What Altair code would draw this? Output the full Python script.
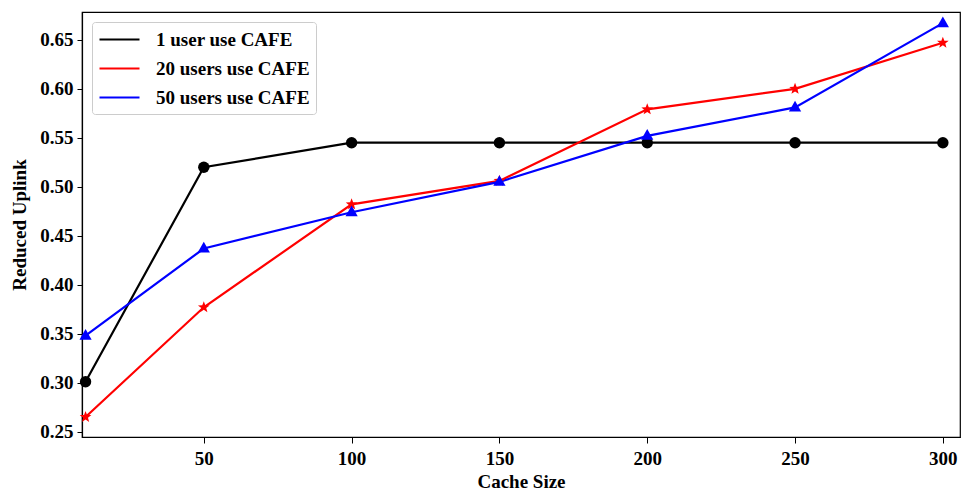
import math
import altair as alt
import pandas as pd

cache_size = [10, 50, 100, 150, 200, 250, 300]
one_user = [0.301, 0.520, 0.545, 0.545, 0.545, 0.545, 0.545]
twenty_users = [0.265, 0.377, 0.482, 0.506, 0.579, 0.600, 0.647]
fifty_users = [0.348, 0.437, 0.474, 0.505, 0.552, 0.581, 0.667]

series_names = ["1 user use CAFE", "20 users use CAFE", "50 users use CAFE"]
series_colors = ["#000000", "#ff0000", "#0000ff"]

# five-point star as an SVG path in unit coordinates
star_pts = []
for i in range(10):
    ang = math.radians(-90 + 36 * i)
    r = 1.0 if i % 2 == 0 else 0.42
    star_pts.append(f"{r * math.cos(ang):.3f},{r * math.sin(ang):.3f}")
STAR = "M" + "L".join(star_pts) + "Z"
TRI = "M0,-1.1L1,0.65L-1,0.65Z"
LEGEND_LINE = "M-1,0L3,0"
series_shapes = ["circle", STAR, TRI]
series_sizes = [130, 150, 150]

rows = []
for name, vals in zip(series_names, [one_user, twenty_users, fifty_users]):
    for x, y in zip(cache_size, vals):
        rows.append({"cache": x, "uplink": y, "series": name})
df = pd.DataFrame(rows)

FONT = "Liberation Serif"

x_enc = alt.X("cache:Q",
              scale=alt.Scale(domain=[8.8, 305.8], nice=False, zero=False),
              axis=alt.Axis(values=[50, 100, 150, 200, 250, 300], title="Cache Size",
                            grid=False))
y_enc = alt.Y("uplink:Q",
              scale=alt.Scale(domain=[0.2446, 0.6784], nice=False, zero=False),
              axis=alt.Axis(values=[0.25, 0.30, 0.35, 0.40, 0.45, 0.50, 0.55, 0.60, 0.65],
                            format=".2f", title="Reduced Uplink", grid=False))

lines = alt.Chart(df).mark_line(strokeWidth=2.2).encode(
    x=x_enc, y=y_enc,
    color=alt.Color("series:N",
                    scale=alt.Scale(domain=series_names, range=series_colors),
                    legend=alt.Legend(title=None, orient="none", legendX=10, legendY=10,
                                      symbolType=LEGEND_LINE, symbolSize=400,
                                      symbolStrokeWidth=2.2, labelFont=FONT,
                                      labelFontSize=19, labelFontWeight="bold",
                                      labelColor="black", padding=6, rowPadding=7,
                                      labelOffset=35,
                                      fillColor="white", strokeColor="#cccccc",
                                      cornerRadius=3)),
)

layers = [lines]
for name, col, shp, sz in zip(series_names, series_colors, series_shapes, series_sizes):
    layers.append(
        alt.Chart(df).transform_filter(alt.datum.series == name)
        .mark_point(filled=True, opacity=1, color=col, shape=shp, size=sz)
        .encode(x=x_enc, y=y_enc)
    )

chart = alt.layer(*layers).properties(
    width=878, height=425,
    autosize=alt.AutoSizeParams(type="none"),
    padding={"left": 82, "top": 12, "right": 1, "bottom": 52},
).configure_view(stroke="black", strokeWidth=1.2).configure_axis(
    labelFont=FONT, labelFontSize=19, labelFontWeight="bold", labelColor="black",
    titleFont=FONT, titleFontSize=19, titleFontWeight="bold", titleColor="black",
    domainColor="black", tickColor="black", tickSize=5, domainWidth=1.2,
).configure_axisY(titlePadding=10, labelPadding=4).configure_axisX(
    titlePadding=4, labelPadding=6, tickSize=6)

chart.save("out.html", embed_options={"renderer": "svg", "actions": False})
